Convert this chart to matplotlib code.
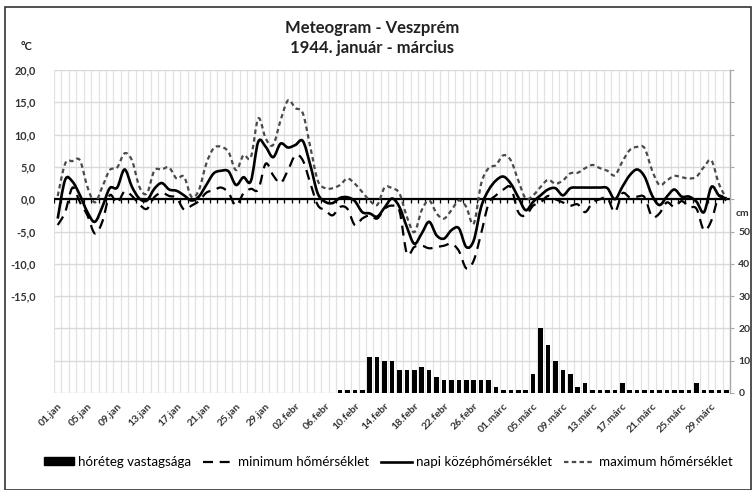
import numpy as np
import matplotlib
matplotlib.use("Agg")
import matplotlib.pyplot as plt
from matplotlib.path import Path
from matplotlib.patches import PathPatch, Rectangle, Patch
from matplotlib.lines import Line2D

plt.rcParams['font.family'] = ['Lato', 'DejaVu Sans']

# 1944. jan 1 - márc 31 (91 nap)
days = np.arange(91)
tick_pos = list(range(0, 91, 4))
tick_labels = ["01.jan", "05.jan", "09.jan", "13.jan", "17.jan", "21.jan", "25.jan", "29.jan",
               "02.febr", "06.febr", "10.febr", "14.febr", "18.febr", "22.febr", "26.febr",
               "01.márc", "05.márc", "09.márc", "13.márc", "17.márc", "21.márc", "25.márc", "29.márc"]

# hóréteg vastagsága (cm)
snow_jan = [0] * 31
snow_feb = [0, 0, 0, 0, 0, 0, 0, 1, 1, 1, 1, 11, 11, 10, 10, 7, 7, 7, 8, 7, 5,
            4, 4, 4, 4, 4, 4, 4, 2]
snow_mar = [1, 1, 1, 1, 6, 20, 15, 10, 7, 6, 2, 3, 1, 1, 1, 1, 3, 1, 1, 1, 1, 1, 1, 1, 1, 1,
            3, 1, 1, 1, 1]
snow = snow_jan + snow_feb + snow_mar

# napi középhőmérséklet
t_mean = [-3.0, 3.0, 2.7, 0.6, -2.0, -3.5, -1.2, 1.7, 1.8, 4.6, 1.9, 0.1, -0.2, 1.6, 2.5, 1.5,
          1.3, 0.6, -0.2, 0.4, 2.2, 4.0, 4.4, 4.3, 2.2, 3.4, 2.8, 8.9, 8.1, 6.5, 8.6,
          8.0, 8.4, 9.0, 5.3, 0.9, -0.4, -0.6, 0.2, 0.3, -0.3, -2.0, -2.2, -2.7, -1.3, 0.1,
          -1.2, -4.3, -6.9, -5.3, -3.5, -5.6, -6.1, -4.8, -4.5, -7.4, -6.4, -1.2, 1.4,
          2.9, 3.5, 2.4, 0.3, -1.7, -0.4, 0.6, 1.5, 1.7, 0.6, 1.7, 1.8, 1.8, 1.8, 1.8, 1.7,
          0.0, 1.9, 3.7, 4.6, 3.5, 0.6, -0.9, 0.4, 1.5, 0.4, 0.4, -0.4, -2.0, 1.9, 0.6, 0.1]
# minimum hőmérséklet
t_min = [-4.0, -2.0, 1.8, -0.5, -2.5, -5.3, -3.5, 0.6, -0.6, 1.2, 0.5, -0.8, -1.5, 0.3, 1.0, 0.5,
         0.2, -1.6, -1.0, -0.3, 1.0, 1.4, 1.8, 1.0, -1.0, 0.9, 1.6, 1.5, 5.5, 3.7, 2.5,
         4.5, 6.8, 6.0, 2.5, -0.9, -1.7, -2.5, -1.2, -1.5, -4.0, -3.0, -2.5, -3.0, -1.5, -1.0,
         -1.8, -8.4, -7.4, -7.2, -7.6, -7.4, -7.2, -6.9, -8.0, -10.7, -9.5, -5.3, -0.7,
         0.6, 1.5, 1.8, -2.0, -2.5, -1.0, -0.5, 0.5, 0.0, -0.5, -1.0, -0.8, -2.0, -0.5, 0.0, 0.2,
         -2.0, 0.9, 0.3, 0.4, 0.3, -2.7, -2.2, -0.5, -1.2, -0.3, -1.2, -1.5, -4.8, -3.3, 0.4, -0.2]
# maximum hőmérséklet
t_max = [0.5, 5.5, 5.9, 6.0, 1.9, -0.5, 1.9, 4.5, 4.9, 7.1, 6.0, 1.9, 0.9, 4.4, 4.6, 4.9,
         3.2, 3.5, 0.4, 1.4, 5.5, 7.9, 8.1, 7.3, 4.5, 6.8, 6.5, 12.5, 9.4, 8.4, 12.2,
         15.3, 14.1, 13.3, 8.1, 2.9, 1.7, 1.7, 2.2, 3.2, 2.4, 1.1, -0.2, -0.9, 1.8, 1.7,
         0.9, -2.7, -5.1, -1.7, -0.2, -2.2, -3.0, -1.7, -0.2, -1.2, -3.8, 2.4, 4.8,
         5.3, 6.8, 6.0, 2.9, 0.1, 0.6, 1.9, 3.0, 2.4, 2.9, 4.0, 4.1, 4.8, 5.3, 4.8, 4.4,
         3.7, 5.8, 7.6, 8.1, 7.9, 4.5, 2.2, 2.9, 3.6, 3.4, 3.2, 3.5, 5.0, 6.0, 2.4, 0.1]


def smooth_path(x, y):
    # simított vonal, mint az Excelben: Catmull-Rom -> Bezier szakaszok
    x = np.asarray(x, float)
    y = np.asarray(y, float)
    px = np.concatenate([[x[0]], x, [x[-1]]])
    py = np.concatenate([[y[0]], y, [y[-1]]])
    verts = [(x[0], y[0])]
    codes = [Path.MOVETO]
    for i in range(len(x) - 1):
        c1 = (x[i] + (px[i + 2] - px[i]) / 6, y[i] + (py[i + 2] - py[i]) / 6)
        c2 = (x[i + 1] - (px[i + 3] - px[i + 1]) / 6, y[i + 1] - (py[i + 3] - py[i + 1]) / 6)
        verts += [c1, c2, (x[i + 1], y[i + 1])]
        codes += [Path.CURVE4] * 3
    return Path(verts, codes)


fig = plt.figure(figsize=(7.53, 4.9), dpi=100)
ax = fig.add_axes([54 / 753, 1 - 393 / 490, 676 / 753, 323 / 490])
ax2 = ax.twinx()

ax.set_xlim(-0.5, 90.5)
ax.set_ylim(-30, 20)
ax2.set_ylim(0, 100)

# rácsvonalak
ax.set_xticks(np.arange(-0.5, 91, 1), minor=True)
ax.grid(which='minor', axis='x', color='#e2e2e2', lw=0.9)
ax.set_yticks(range(-30, 21, 5))
ax.set_yticklabels([f"{v:.1f}".replace('.', ',') if v >= -15 else '' for v in range(-30, 21, 5)])
ax.grid(which='major', axis='y', color='#dadada', lw=1.0)
ax.set_axisbelow(True)
ax.tick_params(which='both', length=0)
ax.tick_params(axis='y', labelsize=7.8, pad=13)
for lab in ax.get_yticklabels():
    lab.set_fontweight('bold')
    lab.set_color('#333333')

ax.set_xticks(tick_pos)
ax.set_xticklabels(tick_labels, rotation=45, ha='right', rotation_mode='anchor',
                   fontsize=7.5, fontweight='bold', color='#333333')
ax.tick_params(axis='x', pad=6)

for s in ax.spines.values():
    s.set_visible(False)
for s in ['top', 'left', 'bottom']:
    ax2.spines[s].set_visible(False)
ax2.spines['right'].set_color('#a8a8a8')
ax2.spines['right'].set_linewidth(1.0)

# 0 °C tengely osztásokkal
ax.axhline(0, color='black', lw=1.6, zorder=3)
ax.vlines(np.arange(-0.5, 91, 1), -0.55, 0, color='black', lw=0.9, zorder=3)

# hőmérséklet görbék
ax.add_patch(PathPatch(smooth_path(days, t_min), fill=False, edgecolor='black',
                       lw=1.6, ls=(0, (4.5, 3)), zorder=4))
ax.add_patch(PathPatch(smooth_path(days, t_max), fill=False, edgecolor='#4a4a4a',
                       lw=1.6, ls=(0, (2, 1.5)), zorder=4))
ax.add_patch(PathPatch(smooth_path(days, t_mean), fill=False, edgecolor='black',
                       lw=1.9, zorder=5))

# hóréteg
ax2.bar(days, snow, width=0.6, color='black', zorder=3)
ax2.set_yticks(range(0, 101, 10))
ax2.set_yticklabels([str(v) if v <= 50 else '' for v in range(0, 101, 10)])
ax2.tick_params(axis='y', length=3, color='#a8a8a8', labelsize=7.5, pad=3)
for lab in ax2.get_yticklabels():
    lab.set_fontweight('bold')
    lab.set_color('#333333')

fig.text(736 / 753, 1 - 213 / 490, "cm", fontsize=7.5, fontweight='bold', color='#333333',
         ha='left', va='center')
fig.text(21 / 753, 1 - 47 / 490, "°C", fontsize=8, fontweight='bold', color='#222222',
         ha='left', va='center')
fig.text(372 / 753, 1 - 38 / 490, "Meteogram - Veszprém\n1944. január - március",
         ha='center', va='center', fontsize=12, fontweight='bold', color='#222222',
         linespacing=1.25)

handles = [Patch(facecolor='black', edgecolor='black'),
           Line2D([], [], color='black', lw=1.6, ls=(0, (4.5, 3))),
           Line2D([], [], color='black', lw=1.9),
           Line2D([], [], color='#4a4a4a', lw=1.6, ls=(0, (2, 1.5)))]
labels = ["hóréteg vastagsága", "minimum hőmérséklet", "napi középhőmérséklet",
          "maximum hőmérséklet"]
fig.legend(handles, labels, loc='center', bbox_to_anchor=(388 / 753, 1 - 462 / 490),
           ncol=4, frameon=False, fontsize=9.6, handlelength=2.3, handletextpad=0.3,
           columnspacing=0.9, handleheight=0.55)

fig.patches.append(Rectangle((5 / 753, 0.5 / 490), 746 / 753, 482 / 490,
                             transform=fig.transFigure, fill=False, edgecolor='#333333',
                             lw=1.2))

fig.savefig("out.png", dpi=100)
